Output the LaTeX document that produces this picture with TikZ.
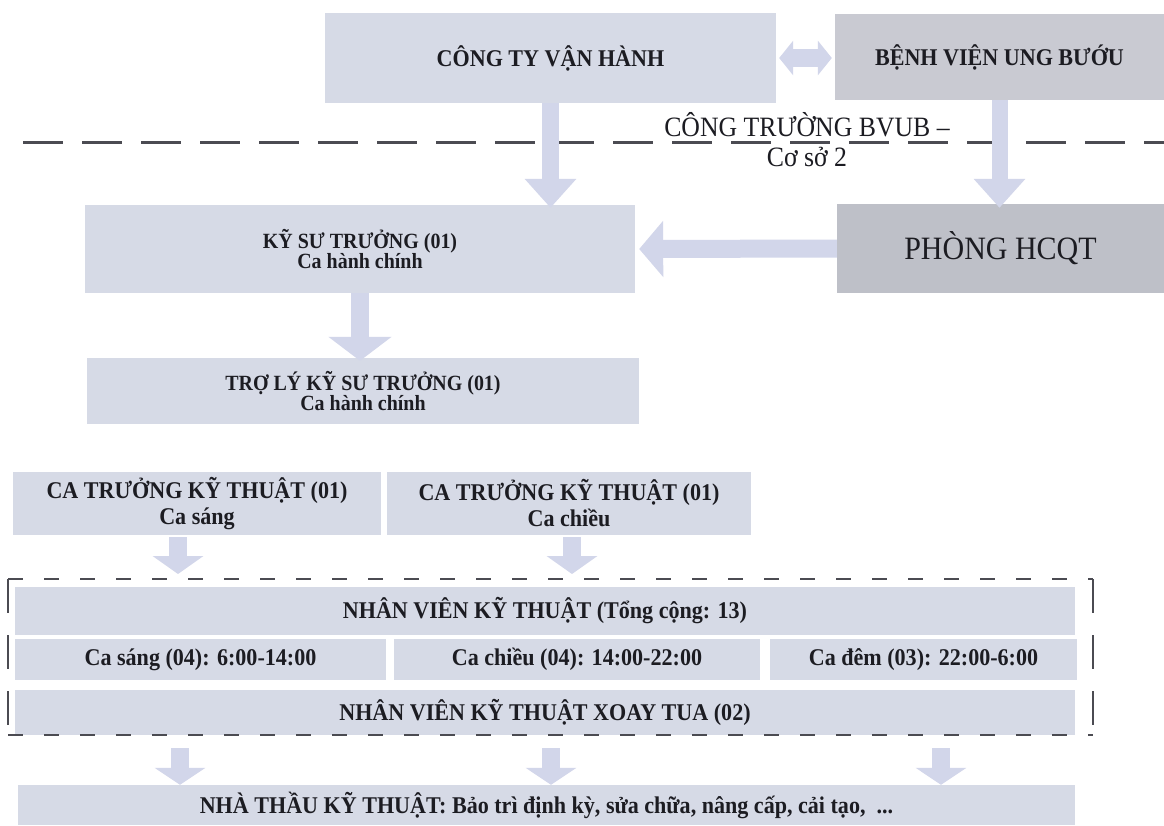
\documentclass[tikz,border=0pt]{standalone}
\usepackage{fontspec}
\setmainfont{Liberation Serif}[FakeStretch=0.92]
\usetikzlibrary{arrows.meta}
\definecolor{boxA}{RGB}{214,218,230}
\definecolor{boxB}{RGB}{201,202,210}
\definecolor{boxC}{RGB}{190,192,200}
\definecolor{arr}{RGB}{210,214,234}
\definecolor{txt}{RGB}{28,28,34}
\definecolor{dashc}{RGB}{75,75,82}
\tikzset{
  box/.style={rectangle, fill=boxA, inner sep=0pt, align=center, text=txt,
    font=\fontsize{21.7}{18}\selectfont\bfseries},
  rowtext/.style={font=\fontsize{24}{24}\selectfont\bfseries},
  barrow/.style={draw=arr, line width=#1},
  tipd/.style={-{Triangle[width=50pt,length=29pt]}},
}
\begin{document}
\begin{tikzpicture}[x=1pt,y=-1pt]
\useasboundingbox (0,0) rectangle (1164,825);
\fill[white] (0,0) rectangle (1164,825);

% top
\node[box, minimum width=451pt, minimum height=90pt, font=\fontsize{24}{24}\selectfont\bfseries] (cty) at (550.5,58) {CÔNG TY VẬN HÀNH};
\node[box, fill=boxB, minimum width=329pt, minimum height=86pt, font=\fontsize{24}{24}\selectfont\bfseries] (bv) at (999.5,57) {BỆNH VIỆN UNG BƯỚU};

% site line
\draw[dashc, line width=3pt, dash pattern=on 40pt off 19pt] (23,142) -- (1164,142);
\node[text=txt, font=\fontsize{28}{30}\selectfont, align=center, inner sep=0pt] (site) at (807,140) {CÔNG TRƯỜNG BVUB –\\Cơ sở 2};

% second level
\node[box, minimum width=550pt, minimum height=88pt] (kst) at (360,249) {KỸ SƯ TRƯỞNG (01)\\Ca hành chính};
\node[box, fill=boxC, minimum width=327pt, minimum height=89pt, font=\fontsize{32.6}{32}\selectfont] (hc) at (1000.5,248.5) {PHÒNG HCQT};
\node[box, minimum width=552pt, minimum height=66pt] (tl) at (363,391) {TRỢ LÝ KỸ SƯ TRƯỞNG (01)\\Ca hành chính};

% shift leaders
\node[box, minimum width=368pt, minimum height=63pt, font=\fontsize{24}{26}\selectfont\bfseries] (ct1) at (197,503.5) {CA TRƯỞNG KỸ THUẬT (01)\\Ca sáng};
\node[box, minimum width=364pt, minimum height=63pt, font=\fontsize{24}{26}\selectfont\bfseries] (ct2) at (569,503.5) {CA TRƯỞNG KỸ THUẬT (01)\\Ca chiều};

% staff group
\node[box, rowtext, minimum width=1060pt, minimum height=48pt] (nv) at (545,611) {NHÂN VIÊN KỸ THUẬT (Tổng cộng: 13)};
\node[box, rowtext, minimum width=371pt, minimum height=41pt] (cs) at (200.5,659.5) {Ca sáng (04): 6:00-14:00};
\node[box, rowtext, minimum width=366pt, minimum height=41pt] (cc) at (577,659.5) {Ca chiều (04): 14:00-22:00};
\node[box, rowtext, minimum width=307pt, minimum height=41pt] (cd) at (923.5,659.5) {Ca đêm (03): 22:00-6:00};
\node[box, rowtext, minimum width=1060pt, minimum height=45pt] (xt) at (545,712.5) {NHÂN VIÊN KỸ THUẬT XOAY TUA (02)};
\node[box, rowtext, minimum width=1057pt, minimum height=40pt] (nt) at (546.5,805) {NHÀ THẦU KỸ THUẬT: Bảo trì định kỳ, sửa chữa, nâng cấp, cải tạo,\ \ ...};

% dashed frame
\coordinate (fTL) at (8,579);
\coordinate (fBR) at (1093,735);
\draw[dashc, line width=1.6pt, dash pattern=on 15pt off 21pt] (fTL) -- (fTL -| fBR);
\draw[dashc, line width=1.6pt, dash pattern=on 15pt off 21pt] (fTL |- fBR) -- (fBR);
\draw[dashc, line width=1.8pt, dash pattern=on 34pt off 22pt] (fTL) -- (fTL |- fBR);
\draw[dashc, line width=1.8pt, dash pattern=on 34pt off 22pt] (fTL -| fBR) -- (fBR);

% arrows
\draw[barrow=17pt, tipd] (cty.south) -- ([yshift=-3pt]cty.south |- kst.north);
\draw[barrow=16pt, tipd] (bv.south) -- ([yshift=-4pt]bv.south |- hc.north);
\draw[barrow=18pt, -{Triangle[width=55pt,length=24pt]}] (hc.west) -- ([xshift=4pt]kst.east);
\draw[barrow=18pt, -{Triangle[width=62pt,length=24pt]}] (kst.south) -- ([yshift=-3pt]kst.south |- tl.north);
\draw[barrow=18pt, {Triangle[width=34pt,length=14pt]}-{Triangle[width=34pt,length=14pt]}] ([xshift=3pt]cty.east) -- ([xshift=-3pt]bv.west |- cty.east);

\coordinate (a1s) at (178,537);
\coordinate (a2s) at (572,537);
\draw[barrow=18pt, -{Triangle[width=50pt,length=18pt]}] (a1s) -- (a1s |- 0,574);
\draw[barrow=18pt, -{Triangle[width=50pt,length=18pt]}] (a2s) -- (a2s |- 0,574);

\coordinate (b1) at (180,748);
\coordinate (b2) at (551,748);
\coordinate (b3) at (941,748);
\foreach \b in {b1,b2,b3}
  \draw[barrow=18pt, -{Triangle[width=50pt,length=17pt]}] (\b) -- (\b |- nt.north);
\end{tikzpicture}
\end{document}
